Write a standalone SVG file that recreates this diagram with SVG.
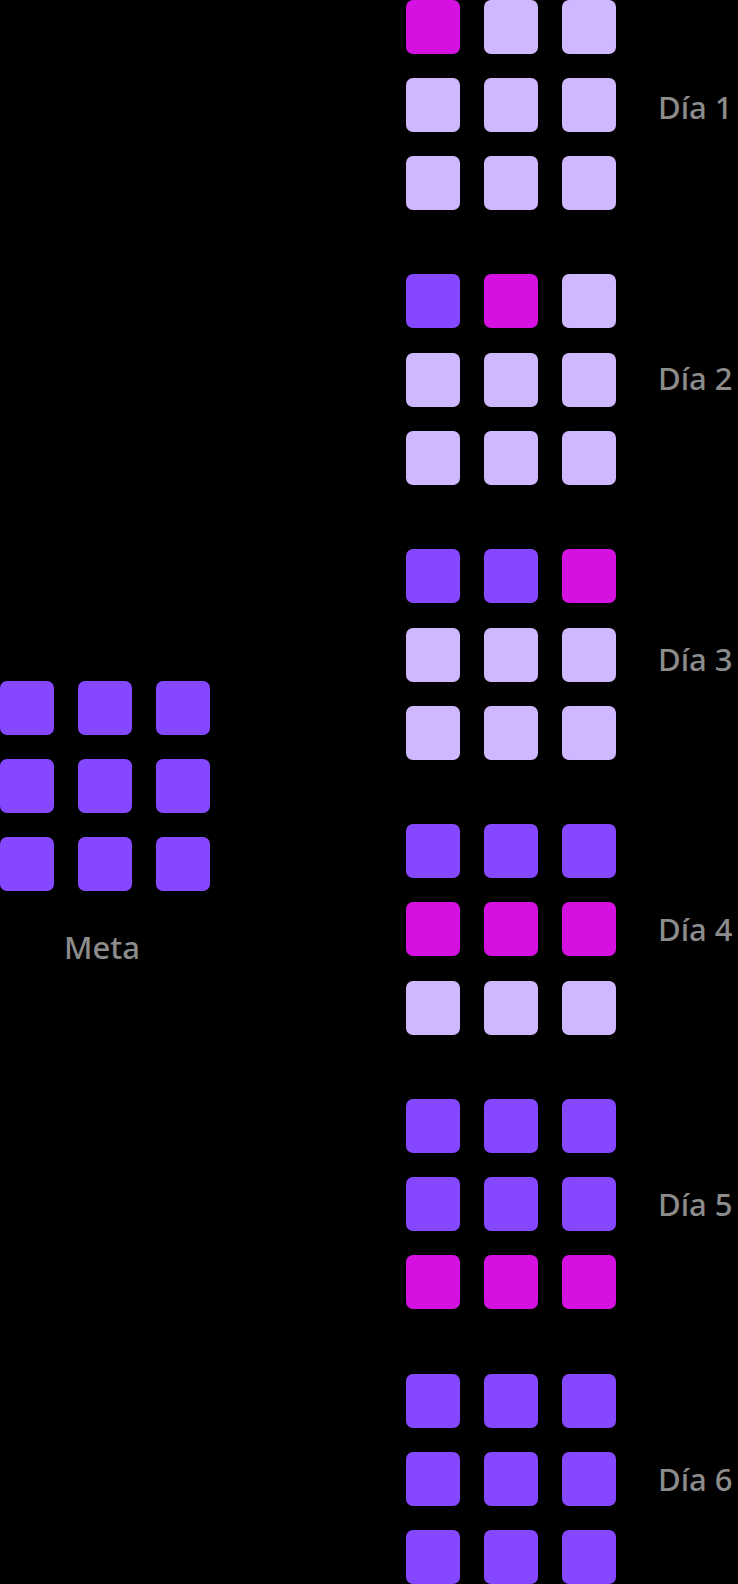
<svg xmlns="http://www.w3.org/2000/svg" width="738" height="1584" viewBox="0 0 738 1584">
<style>
.l{fill:#CFB8FF}.p{fill:#8547FF}.m{fill:#D411E0}
text{font-family:"Noto Sans","Lato","Liberation Sans",sans-serif;font-size:31px;font-weight:500;fill:#8C8C8C}
</style>
<defs><rect id="s" width="54" height="54" rx="7"/></defs>
<rect width="738" height="1584" fill="#000"/>
<g id="meta">
<use href="#s" x="0" y="681" class="p"/><use href="#s" x="78" y="681" class="p"/><use href="#s" x="156" y="681" class="p"/>
<use href="#s" x="0" y="759" class="p"/><use href="#s" x="78" y="759" class="p"/><use href="#s" x="156" y="759" class="p"/>
<use href="#s" x="0" y="837" class="p"/><use href="#s" x="78" y="837" class="p"/><use href="#s" x="156" y="837" class="p"/>
<text x="102" y="959" text-anchor="middle">Meta</text>
</g>
<g id="dia1">
<use href="#s" x="406" y="0" class="m"/><use href="#s" x="484" y="0" class="l"/><use href="#s" x="562" y="0" class="l"/>
<use href="#s" x="406" y="78" class="l"/><use href="#s" x="484" y="78" class="l"/><use href="#s" x="562" y="78" class="l"/>
<use href="#s" x="406" y="156" class="l"/><use href="#s" x="484" y="156" class="l"/><use href="#s" x="562" y="156" class="l"/>
<text x="658" y="119">Día 1</text>
</g>
<g id="dia2">
<use href="#s" x="406" y="274" class="p"/><use href="#s" x="484" y="274" class="m"/><use href="#s" x="562" y="274" class="l"/>
<use href="#s" x="406" y="353" class="l"/><use href="#s" x="484" y="353" class="l"/><use href="#s" x="562" y="353" class="l"/>
<use href="#s" x="406" y="431" class="l"/><use href="#s" x="484" y="431" class="l"/><use href="#s" x="562" y="431" class="l"/>
<text x="658" y="390">Día 2</text>
</g>
<g id="dia3">
<use href="#s" x="406" y="549" class="p"/><use href="#s" x="484" y="549" class="p"/><use href="#s" x="562" y="549" class="m"/>
<use href="#s" x="406" y="628" class="l"/><use href="#s" x="484" y="628" class="l"/><use href="#s" x="562" y="628" class="l"/>
<use href="#s" x="406" y="706" class="l"/><use href="#s" x="484" y="706" class="l"/><use href="#s" x="562" y="706" class="l"/>
<text x="658" y="671">Día 3</text>
</g>
<g id="dia4">
<use href="#s" x="406" y="824" class="p"/><use href="#s" x="484" y="824" class="p"/><use href="#s" x="562" y="824" class="p"/>
<use href="#s" x="406" y="902" class="m"/><use href="#s" x="484" y="902" class="m"/><use href="#s" x="562" y="902" class="m"/>
<use href="#s" x="406" y="981" class="l"/><use href="#s" x="484" y="981" class="l"/><use href="#s" x="562" y="981" class="l"/>
<text x="658" y="941">Día 4</text>
</g>
<g id="dia5">
<use href="#s" x="406" y="1099" class="p"/><use href="#s" x="484" y="1099" class="p"/><use href="#s" x="562" y="1099" class="p"/>
<use href="#s" x="406" y="1177" class="p"/><use href="#s" x="484" y="1177" class="p"/><use href="#s" x="562" y="1177" class="p"/>
<use href="#s" x="406" y="1255" class="m"/><use href="#s" x="484" y="1255" class="m"/><use href="#s" x="562" y="1255" class="m"/>
<text x="658" y="1216">Día 5</text>
</g>
<g id="dia6">
<use href="#s" x="406" y="1374" class="p"/><use href="#s" x="484" y="1374" class="p"/><use href="#s" x="562" y="1374" class="p"/>
<use href="#s" x="406" y="1452" class="p"/><use href="#s" x="484" y="1452" class="p"/><use href="#s" x="562" y="1452" class="p"/>
<use href="#s" x="406" y="1530" class="p"/><use href="#s" x="484" y="1530" class="p"/><use href="#s" x="562" y="1530" class="p"/>
<text x="658" y="1491">Día 6</text>
</g>
<g id="connectors"/>
</svg>
